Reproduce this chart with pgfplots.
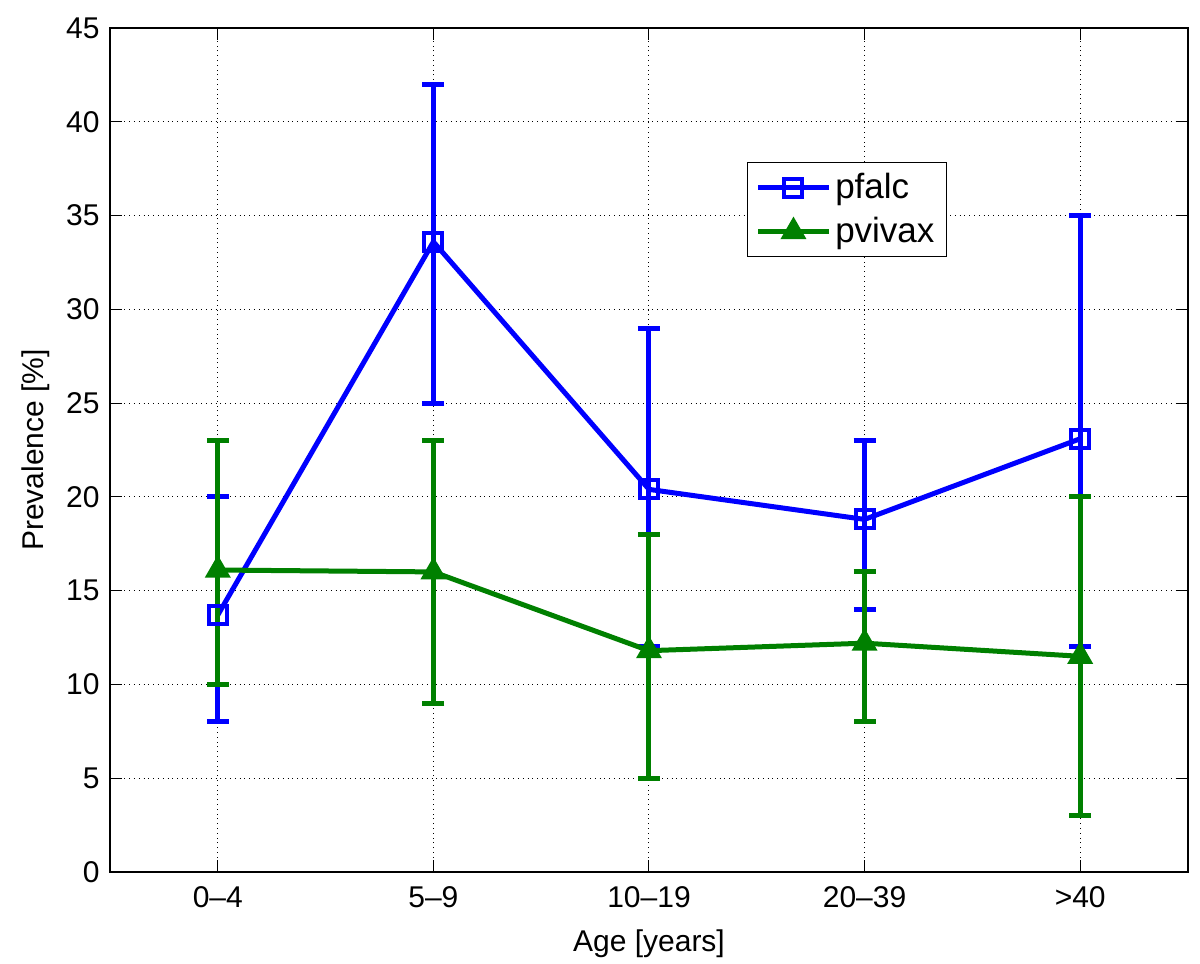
\documentclass[border=0pt]{standalone}
\usepackage{pgfplots}
\pgfplotsset{compat=1.18}
\usepackage{pgfplotstable}
\usepackage{fontspec}
\setmainfont{Liberation Sans}
\definecolor{mblue}{rgb}{0,0,1}
\definecolor{mgreen}{rgb}{0,0.5,0}
\pgfplotstableread{
x y ep em
0 13.7 6.3 5.7
1 33.6 8.4 8.6
2 20.4 8.6 8.4
3 18.8 4.2 4.8
4 23.1 11.9 11.1
}\pfalc
\pgfplotstableread{
x y ep em
0 16.1 6.9 6.1
1 16.0 7.0 7.0
2 11.8 6.2 6.8
3 12.2 3.8 4.2
4 11.5 8.5 8.5
}\pvivax
\begin{document}
\fontsize{15}{17}\selectfont
\begin{tikzpicture}
\path[use as bounding box] (-55pt,-46pt) rectangle (545pt,436pt);
\begin{axis}[
  scale only axis,
  width=539pt, height=422pt,
  xmin=-0.5, xmax=4.5, ymin=0, ymax=45,
  xtick={0,1,2,3,4},
  xticklabels={0--4,5--9,10--19,20--39,>40},
  ytick={0,5,...,45},
  tick align=inside,
  major tick length=6pt,
  tick style={black, line width=0.5pt},
  axis line style={black, line width=0.6pt},
  grid=major,
  grid style={black, dotted, line width=0.5pt},
  /pgf/number format/assume math mode=true,
  ticklabel style={font=\fontsize{15}{17}\selectfont},
  xticklabel style={yshift=-2pt},
  label style={font=\fontsize{15}{17}\selectfont},
  xlabel={Age [years]},
  ylabel={Prevalence [\%]},
  xlabel style={yshift=-1pt},
  ylabel style={yshift=-2pt},
  legend style={at={(0.591,0.841)}, anchor=north west, draw=black, line width=0.6pt,
    font=\fontsize{17.5}{20}\selectfont, row sep=3pt, inner xsep=4pt, inner ysep=3pt},
  legend cell align=left,
  legend image code/.code={%
    \draw[mark repeat=2, mark phase=2] plot coordinates {(0cm,0cm) (0.62cm,0cm) (1.24cm,0cm)};},
]
\addplot[color=mblue, line width=2.5pt, mark=square, mark size=4.5pt,
  mark options={line width=2pt},
  error bars/.cd, y dir=both, y explicit,
  error bar style={line width=2.5pt},
  error mark options={line width=2.5pt, mark size=5.5pt, rotate=90}]
  table[x=x, y=y, y error plus=ep, y error minus=em] {\pfalc};
\addlegendentry{pfalc}
\addplot[color=mgreen, line width=2.5pt, mark=triangle*, mark size=6.5pt,
  mark options={line width=1pt},
  error bars/.cd, y dir=both, y explicit,
  error bar style={line width=2.5pt},
  error mark options={line width=2.5pt, mark size=5.5pt, rotate=90}]
  table[x=x, y=y, y error plus=ep, y error minus=em] {\pvivax};
\addlegendentry{pvivax}
\end{axis}
\end{tikzpicture}
\end{document}
